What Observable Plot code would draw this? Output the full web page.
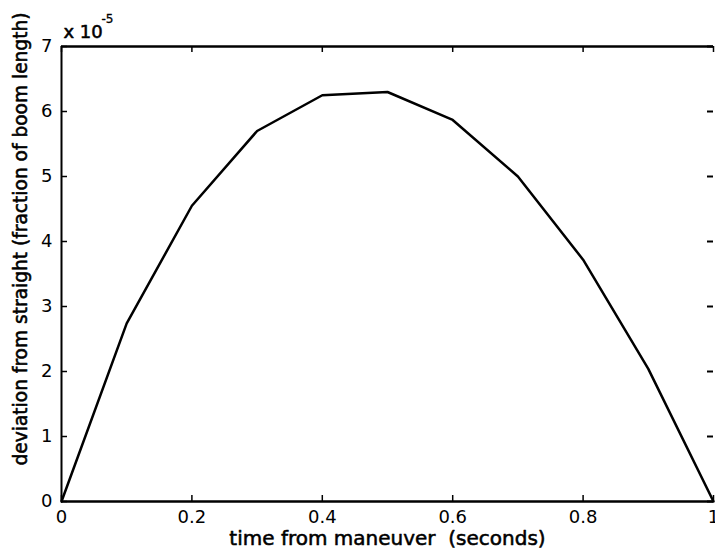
<!DOCTYPE html>
<html>
<head>
<meta charset="utf-8">
<script src="https://cdn.jsdelivr.net/npm/d3@7"></script>
<script src="https://cdn.jsdelivr.net/npm/@observablehq/plot@0.6"></script>
<style>
  html, body { margin: 0; padding: 0; background: #fff; }
  #chart { position: relative; width: 715px; height: 556px; overflow: hidden; }
</style>
</head>
<body>
<div id="chart"></div>
<script>
// time from maneuver (seconds)
const times = [0, 0.1, 0.2, 0.3, 0.4, 0.5, 0.6, 0.7, 0.8, 0.9, 1.0];
// deviation from straight, in units of 1e-5 (fraction of boom length)
const deviation = [0, 2.74, 4.55, 5.7, 6.25, 6.3, 5.87, 5.0, 3.72, 2.04, 0];
const xTicks = [0, 0.2, 0.4, 0.6, 0.8, 1];
const yTicks = [0, 1, 2, 3, 4, 5, 6, 7];
const xLabel = "time from maneuver  (seconds)";
const yLabel = "deviation from straight (fraction of boom length)";
const exponentLabel = "x 10";
const exponentSup = "-5";

const data = times.map((t, i) => ({t, v: deviation[i]}));

const W = 715, H = 556;
const mL = 61, mR = 2, mT = 46, mB = 55;
const plotH = H - mT - mB;
const plotW = W - mL - mR;
const tick = 6;
const FONT = "'DejaVu Sans', 'Liberation Sans', Arial, sans-serif";
const txt = {fill: "#000", stroke: "#000", strokeWidth: 0.55};

const chart = Plot.plot({
  width: W, height: H,
  marginLeft: mL, marginRight: mR, marginTop: mT, marginBottom: mB,
  style: {fontSize: "18px", fontFamily: FONT, color: "#000", background: "#fff", overflow: "visible"},
  x: {domain: [0, 1]},
  y: {domain: [0, 7]},
  marks: [
    // x tick labels
    Plot.axisX({ticks: xTicks, tickSize: 0, tickPadding: 9, tickFormat: d => String(d), label: null, fontSize: 18, ...txt}),
    // y tick labels
    Plot.axisY({ticks: yTicks, tickSize: 0, tickPadding: 9, tickFormat: d => String(d), label: null, fontSize: 18, ...txt}),
    // inward ticks: bottom
    Plot.tickX(xTicks, {x: d => d, insetTop: plotH - tick, stroke: "#000", strokeWidth: 1.5}),
    // inward ticks: top
    Plot.tickX(xTicks, {x: d => d, insetBottom: plotH - tick, stroke: "#000", strokeWidth: 1.5}),
    // inward ticks: left
    Plot.tickY(yTicks, {y: d => d, insetRight: plotW - tick, stroke: "#000", strokeWidth: 1.5}),
    // inward ticks: right
    Plot.tickY(yTicks, {y: d => d, insetLeft: plotW - tick, stroke: "#000", strokeWidth: 2}),
    // frame lines
    Plot.ruleY([0, 7], {stroke: "#000", strokeWidth: 2.5}),
    Plot.ruleX([0], {stroke: "#000", strokeWidth: 2}),
    // data
    Plot.line(data, {x: "t", y: "v", stroke: "#000", strokeWidth: 2.5, strokeLinejoin: "round"}),
    // axis titles
    Plot.text([xLabel], {frameAnchor: "bottom", dy: 43, text: d => d, fontSize: 20, ...txt}),
    Plot.text([yLabel], {frameAnchor: "left", dx: -40, dy: -35, rotate: -90, textAnchor: "middle", text: d => d, fontSize: 18.6, ...txt}),
    // exponent
    Plot.text([exponentLabel], {frameAnchor: "top-left", dx: 2, dy: -9, text: d => d, textAnchor: "start", lineAnchor: "bottom", fontSize: 18, ...txt}),
    Plot.text([exponentSup], {frameAnchor: "top-left", dx: 40, dy: -24, text: d => d, textAnchor: "start", lineAnchor: "bottom", fontSize: 12, fill: "#000", stroke: "#000", strokeWidth: 0.3})
  ]
});
document.getElementById("chart").appendChild(chart);
</script>
</body>
</html>
